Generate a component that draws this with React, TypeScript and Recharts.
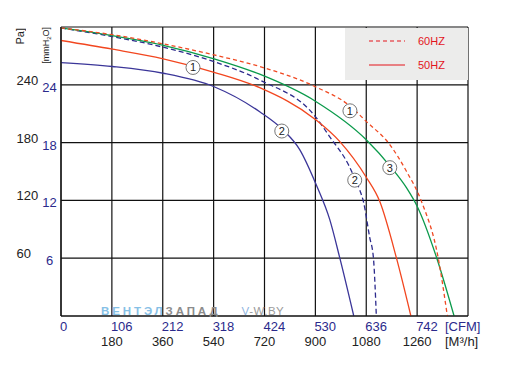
import { CartesianGrid, Legend, Line, LineChart, ReferenceDot, XAxis, YAxis } from "recharts";

// x: air flow [CFM], y: pressure [mmH2O]
const cfmTicks = [0, 106, 212, 318, 424, 530, 636, 742, 848];
const cfmLabels = ["0", "106", "212", "318", "424", "530", "636", "742", "[CFM]"];
const m3hLabels = ["", "180", "360", "540", "720", "900", "1080", "1260", "[M³/h]"];
const mmTicks = [0, 6, 12, 18, 24, 30];
const mmLabels = ["", "6", "12", "18", "24", ""];
const paLabels = ["", "60", "120", "180", "240", ""];

const green50 = [[0, 29.9], [107, 29.1], [213, 28.1], [319, 26.7], [414, 25.1], [530, 22.3], [636, 18.3], [690, 15.3], [720, 13.3], [742, 11.4], [783, 6.0], [819, 0]];
const red60 = [[0, 29.9], [107, 29.2], [213, 28.25], [319, 27.1], [414, 25.9], [530, 23.8], [602, 21.8], [636, 20.2], [685, 17.8], [720, 15.0], [751, 11.9], [786, 6.0], [805, 0]];
const red50 = [[0, 28.6], [107, 27.7], [213, 26.7], [319, 25.3], [414, 23.7], [530, 20.4], [581, 18.1], [636, 14.4], [664, 11.9], [699, 6.0], [729, 0]];
const blue60 = [[0, 29.9], [107, 29.0], [213, 27.9], [319, 26.4], [414, 24.5], [530, 20.7], [560, 18.6], [600, 15.6], [612, 14.3], [623, 13.0], [630, 11.9], [643, 8.2], [651, 6.0], [657, 0]];
const blue50 = [[0, 26.3], [107, 25.9], [213, 25.2], [319, 23.8], [414, 21.2], [463, 19.3], [497, 17.3], [532, 13.6], [560, 10.0], [581, 6.0], [610, 0]];

// circled curve numbers
const marks = [
  { x: 275, y: 25.8, n: "1" },
  { x: 460, y: 19.2, n: "2" },
  { x: 602, y: 21.3, n: "1" },
  { x: 612, y: 14.1, n: "2" },
  { x: 685, y: 15.4, n: "3" },
];

const legendItems = [
  { label: "60HZ", dash: "4 3" },
  { label: "50HZ", dash: "" },
];

const toPts = (arr: number[][]) => arr.map(([x, y]) => ({ x, y }));

const FONT = '"Liberation Sans", Arial, sans-serif';

const XTick = (props: any) => {
  const { x, y, payload } = props;
  const i = cfmTicks.indexOf(payload.value);
  const last = i === cfmTicks.length - 1;
  return (
    <g fontFamily={FONT} fontSize={13}>
      <text x={last ? x - 23 : x - 1} y={y + 15} fill="#2b2a8c" textAnchor="start">
        {cfmLabels[i]}
      </text>
      <text x={last ? x - 23 : x} y={y + 30} fill="#222" textAnchor={last ? "start" : "middle"}>
        {m3hLabels[i]}
      </text>
    </g>
  );
};

const YTick = (props: any) => {
  const { x, y, payload } = props;
  const i = mmTicks.indexOf(payload.value);
  return (
    <g fontFamily={FONT} fontSize={13}>
      <text x={x - 44.5} y={y} fill="#222" textAnchor="start">
        {paLabels[i]}
      </text>
      <text x={x - 11.5} y={y + 7} fill="#2b2a8c" textAnchor="middle">
        {mmLabels[i]}
      </text>
    </g>
  );
};

const LegendBox = () => (
  <div style={{ background: "#ececeb", width: 123, height: 52, position: "relative" }}>
    {legendItems.map((it, k) => (
      <div key={it.label} style={{ position: "absolute", left: 0, top: 6 + k * 24, height: 14, width: 123 }}>
        <svg width={123} height={14} style={{ position: "absolute", left: 0, top: 0 }}>
          <line x1={24} x2={60} y1={7} y2={7} stroke="#e3141c" strokeWidth={1.2} strokeDasharray={it.dash} />
          <text x={73} y={11} fill="#e3141c" fontSize={11} fontFamily={FONT}>
            {it.label}
          </text>
        </svg>
      </div>
    ))}
  </div>
);

export default function App() {
  return (
    <div style={{ position: "absolute", left: 0, top: 0, width: 512, height: 377, background: "#fff" }}>
      <LineChart width={512} height={377} margin={{ top: 27, right: 44, left: 0, bottom: 16 }}>
        <CartesianGrid stroke="#111" strokeWidth={1.2} />
        <XAxis
          type="number"
          dataKey="x"
          domain={[0, 848]}
          ticks={cfmTicks}
          interval={0}
          tickSize={0}
          tickMargin={0}
          height={45}
          axisLine={{ stroke: "#111", strokeWidth: 1.2 }}
          tickLine={false}
          tick={<XTick />}
          allowDataOverflow
        />
        <YAxis
          type="number"
          dataKey="y"
          domain={[0, 30]}
          ticks={mmTicks}
          interval={0}
          tickSize={0}
          tickMargin={0}
          width={61}
          axisLine={{ stroke: "#111", strokeWidth: 1.2 }}
          tickLine={false}
          tick={<YTick />}
          allowDataOverflow
        />
        <Legend
          layout="horizontal"
          verticalAlign="middle"
          align="center"
          width={123}
          height={52}
          wrapperStyle={{ left: 345, top: 28, width: 123, height: 52 }}
          content={() => <LegendBox />}
        />
        <Line data={toPts(blue50)} dataKey="y" type="monotone" stroke="#3b3699" strokeWidth={1.3} dot={false} isAnimationActive={false} />
        <Line data={toPts(blue60)} dataKey="y" type="monotone" stroke="#2c2a8c" strokeWidth={1.3} strokeDasharray="5 3" dot={false} isAnimationActive={false} />
        <Line data={toPts(red50)} dataKey="y" type="monotone" stroke="#f2461f" strokeWidth={1.3} dot={false} isAnimationActive={false} />
        <Line data={toPts(green50)} dataKey="y" type="monotone" stroke="#0b9a4b" strokeWidth={1.3} dot={false} isAnimationActive={false} />
        <Line data={toPts(red60)} dataKey="y" type="monotone" stroke="#f04a23" strokeWidth={1.3} strokeDasharray="4 3" dot={false} isAnimationActive={false} />
        {marks.map((m, k) => (
          <ReferenceDot
            key={k}
            x={m.x}
            y={m.y}
            r={7}
            fill="#fff"
            stroke="#666"
            strokeWidth={0.9}
            label={{ value: m.n, position: "center", fontSize: 11, fill: "#222", fontFamily: FONT }}
          />
        ))}
      </LineChart>
      {/* axis unit labels */}
      <div style={{ position: "absolute", left: 14, top: 28, fontFamily: FONT, fontSize: 11, color: "#222", writingMode: "vertical-rl", transform: "rotate(180deg)" }}>
        Pa]
      </div>
      <div style={{ position: "absolute", left: 41, top: 27, fontFamily: FONT, fontSize: 9, color: "#222", writingMode: "vertical-rl", transform: "rotate(180deg)" }}>
        [mmH<sub style={{ fontSize: 6 }}>2</sub>O]
      </div>
      {/* watermark */}
      <div style={{ position: "absolute", left: 101, top: 305, fontFamily: FONT, fontSize: 11.5, fontWeight: "bold", letterSpacing: 2.9, whiteSpace: "nowrap" }}>
        <span style={{ color: "#86c0e6" }}>ВЕНТЭЛ</span>
        <span style={{ color: "#8c8c8c" }}>ЗАПАД</span>
        <span style={{ color: "#9a9a9a", fontWeight: "normal", letterSpacing: 0.5, marginLeft: 21 }}>
          <span style={{ color: "#8fb4e0" }}>V</span>-W.BY
        </span>
      </div>
    </div>
  );
}
